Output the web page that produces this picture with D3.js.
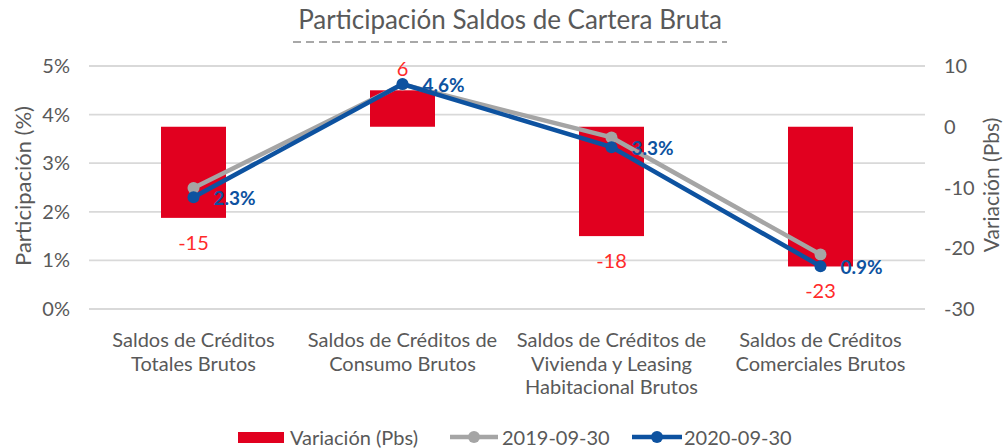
<!DOCTYPE html>
<html><head><meta charset="utf-8">
<script src="https://cdn.jsdelivr.net/npm/d3@7"></script>
<style>body{margin:0;background:#fff}svg{font-family:Lato,"Open Sans",sans-serif}</style>
</head><body>
<svg id="c" width="1004" height="448"></svg>
<script>
const categories=[["Saldos de Créditos","Totales Brutos"],["Saldos de Créditos de","Consumo Brutos"],["Saldos de Créditos de","Vivienda y Leasing","Habitacional Brutos"],["Saldos de Créditos","Comerciales Brutos"]];
const variacion=[-15,6,-18,-23];
const s2019=[2.49,4.62,3.53,1.12];
const s2020=[2.30,4.63,3.33,0.88];
const leftTicks=[0,1,2,3,4,5];
const rightTicks=[-30,-20,-10,0,10];
const svg=d3.select("#c");
const x0=89,x1=925,yTop=66,yBot=309;
const x=d3.scaleBand().domain(d3.range(4)).range([x0,x1]);
const yL=d3.scaleLinear().domain([0,5]).range([yBot,yTop]);
const yR=d3.scaleLinear().domain([-30,10]).range([yBot,yTop]);
const red="#E1001F",grey="#A5A5A5",blue="#0D52A0",txt="#595959";
// grid
svg.append("g").selectAll("line").data(leftTicks).join("line")
 .attr("x1",x0).attr("x2",x1).attr("y1",d=>yL(d)).attr("y2",d=>yL(d))
 .attr("stroke","#d9d9d9").attr("stroke-width",1.8);
// axis labels
svg.append("g").selectAll("text").data(leftTicks).join("text")
 .attr("x",70).attr("y",d=>yL(d)+7).attr("text-anchor","end").attr("fill",txt).attr("font-size",20).text(d=>d+"%");
svg.append("g").selectAll("text").data(rightTicks).join("text")
 .attr("x",944).attr("y",d=>yR(d)+7).attr("text-anchor","start").attr("fill",txt).attr("font-size",20).text(d=>d);
// axis titles
svg.append("text").attr("transform","translate(31,186) rotate(-90)").attr("text-anchor","middle").attr("fill",txt).attr("font-size",22).text("Participación (%)");
svg.append("text").attr("transform","translate(999,185) rotate(-90)").attr("text-anchor","middle").attr("fill",txt).attr("font-size",21).text("Variación (Pbs)");
// title
svg.append("text").attr("x",510).attr("y",29).attr("text-anchor","middle").attr("fill",txt).attr("font-size",26).text("Participación Saldos de Cartera Bruta");
svg.append("line").attr("x1",293).attr("x2",727).attr("y1",42).attr("y2",42).attr("stroke","#8c8c8c").attr("stroke-width",1.5).attr("stroke-dasharray","8,5");
// bars
const bw=65;
svg.append("g").selectAll("rect").data(variacion).join("rect")
 .attr("x",(d,i)=>x(i)+x.bandwidth()/2-bw/2).attr("width",bw)
 .attr("y",d=>yR(Math.max(0,d))).attr("height",d=>Math.abs(yR(d)-yR(0)))
 .attr("fill",red);
svg.append("g").selectAll("text").data(variacion).join("text")
 .attr("x",(d,i)=>x(i)+x.bandwidth()/2)
 .attr("y",d=>d<0?yR(d)+32:yR(d)-14)
 .attr("text-anchor","middle").attr("fill","#FF2A2A").attr("font-size",20).text(d=>d);
// lines
const cx=i=>x(i)+x.bandwidth()/2;
const line=d3.line().x((d,i)=>cx(i)).y(d=>yL(d));
svg.append("path").datum(s2019).attr("d",line).attr("fill","none").attr("stroke",grey).attr("stroke-width",4.5);
svg.append("g").selectAll("circle").data(s2019).join("circle").attr("cx",(d,i)=>cx(i)).attr("cy",d=>yL(d)).attr("r",6).attr("fill",grey);
svg.append("path").datum(s2020).attr("d",line).attr("fill","none").attr("stroke",blue).attr("stroke-width",4.5);
svg.append("g").selectAll("circle").data(s2020).join("circle").attr("cx",(d,i)=>cx(i)).attr("cy",d=>yL(d)).attr("r",6).attr("fill",blue);
svg.append("g").selectAll("text").data(s2020).join("text")
 .attr("x",(d,i)=>cx(i)+20).attr("y",d=>yL(d)+8)
 .attr("fill",blue).attr("font-size",19).attr("font-weight","bold").text(d=>d.toFixed(1)+"%");
// category labels
const cg=svg.append("g").selectAll("text").data(categories).join("text")
 .attr("text-anchor","middle").attr("fill",txt).attr("font-size",20);
cg.each(function(lines,i){
  d3.select(this).selectAll("tspan").data(lines).join("tspan")
   .attr("x",cx(i)).attr("y",(l,j)=>347+j*23.5).text(l=>l);
});
// legend
const lg=svg.append("g").attr("font-size",20).attr("fill",txt);
lg.append("rect").attr("x",238).attr("y",432).attr("width",46).attr("height",11).attr("fill",red);
lg.append("text").attr("x",290).attr("y",445).text("Variación (Pbs)");
lg.append("line").attr("x1",450).attr("x2",498).attr("y1",437).attr("y2",437).attr("stroke",grey).attr("stroke-width",4.5);
lg.append("circle").attr("cx",474).attr("cy",437).attr("r",6).attr("fill",grey);
lg.append("text").attr("x",502).attr("y",445).text("2019-09-30");
lg.append("line").attr("x1",632).attr("x2",682).attr("y1",437).attr("y2",437).attr("stroke",blue).attr("stroke-width",4.5);
lg.append("circle").attr("cx",657).attr("cy",437).attr("r",6).attr("fill",blue);
lg.append("text").attr("x",684).attr("y",445).text("2020-09-30");
</script>
</body></html>
